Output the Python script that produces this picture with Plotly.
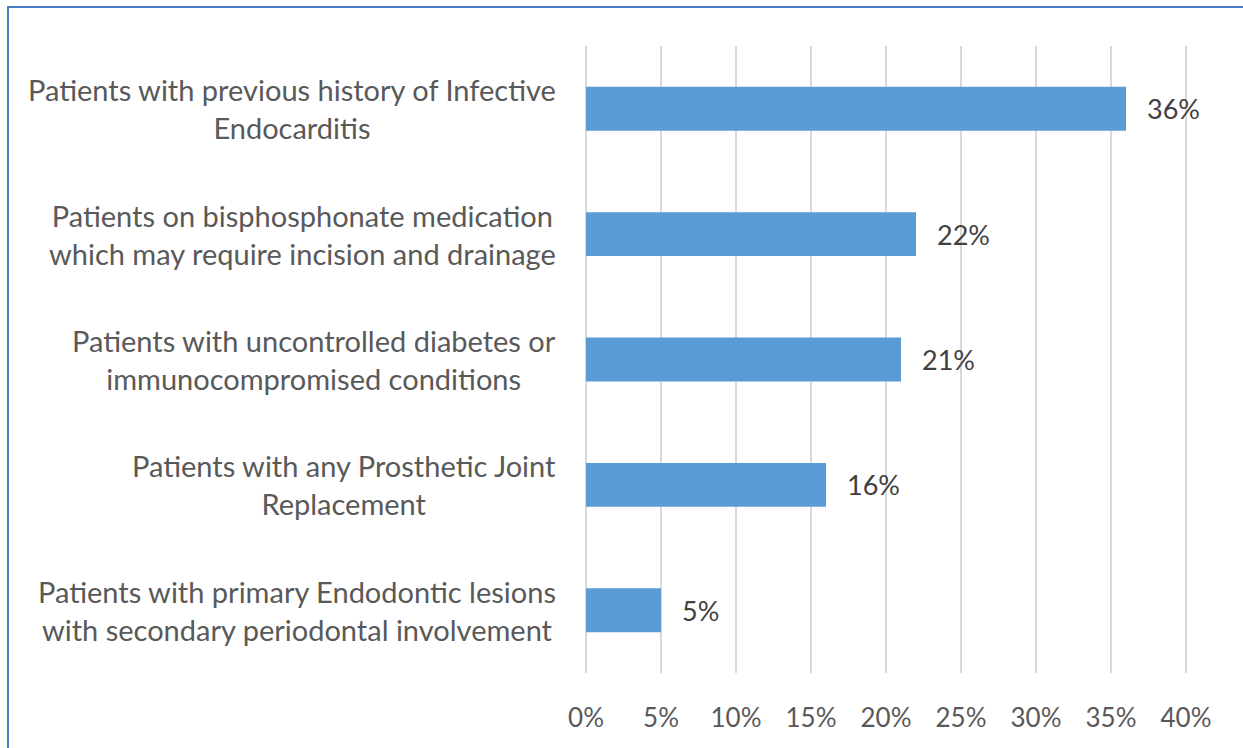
import plotly.graph_objects as go

# Survey categories (top to bottom) and the share of respondents for each
categories = [
    "Patients with previous history of Infective<br>Endocarditis",
    "Patients on bisphosphonate medication<br>which may require incision and drainage",
    "Patients with uncontrolled diabetes or<br>immunocompromised conditions",
    "Patients with any Prosthetic Joint<br>Replacement",
    "Patients with primary Endodontic lesions<br>with secondary periodontal involvement",
]
values = [36, 22, 21, 16, 5]
tick_values = [0, 5, 10, 15, 20, 25, 30, 35, 40]
tick_labels = [f"{v}%" for v in tick_values]

FONT = "Lato"
TEXT = "#595959"
BAR = "#5B9BD5"
GRID = "#D9D9D9"

W, H = 1243, 748
X_MAX = 40.2  # a little headroom so the 40% gridline is drawn
ML, MT, MB = 586, 46, 75
MR = W - ML - round(600 * X_MAX / 40)
PW, PH = W - ML - MR, H - MT - MB

fig = go.Figure(
    go.Bar(
        x=values,
        y=categories,
        orientation="h",
        marker=dict(color=BAR, line=dict(width=0)),
        width=0.35,
        hoverinfo="skip",
    )
)

annotations = []
# category labels, centred lines, right edge just left of the axis
for cat in categories:
    annotations.append(dict(
        x=0, y=cat, xref="x", yref="y", text=cat, showarrow=False,
        xanchor="right", yanchor="middle", align="center", xshift=-28,
        font=dict(family=FONT, size=29, color=TEXT),
    ))
# value labels to the right of each bar
for cat, v in zip(categories, values):
    annotations.append(dict(
        x=v, y=cat, xref="x", yref="y", text=f"{v}%", showarrow=False,
        xanchor="left", yanchor="middle", xshift=19,
        font=dict(family=FONT, size=27, color="#404040"),
    ))

fig.update_layout(
    width=W, height=H,
    margin=dict(l=ML, r=MR, t=MT, b=MB, pad=0),
    paper_bgcolor="white", plot_bgcolor="white",
    showlegend=False,
    bargap=0.65,
    annotations=annotations,
    xaxis=dict(
        range=[0, X_MAX], tickvals=tick_values, ticktext=tick_labels,
        showgrid=True, gridcolor=GRID, gridwidth=2,
        zeroline=True, zerolinecolor=GRID, zerolinewidth=2,
        showline=False,
        ticks="outside", ticklen=22, tickcolor="rgba(0,0,0,0)",
        tickfont=dict(family=FONT, size=26, color=TEXT),
        fixedrange=True,
    ),
    yaxis=dict(
        categoryorder="array", categoryarray=categories[::-1],
        showticklabels=False, showgrid=False, zeroline=False, showline=False,
        fixedrange=True,
    ),
    shapes=[dict(
        type="rect", xref="paper", yref="paper",
        x0=(8 - ML) / PW, x1=(W + 20 - ML) / PW,
        y0=-(MB + 20) / PH, y1=1 + (MT - 7) / PH,
        line=dict(color="#4A7EC7", width=2), fillcolor="rgba(0,0,0,0)",
        layer="below",
    )],
)

fig.write_html("out.html", config={"displayModeBar": False})
